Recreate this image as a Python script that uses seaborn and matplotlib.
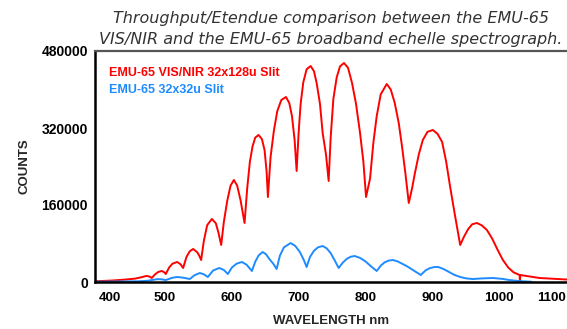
import matplotlib
matplotlib.use("Agg")
import matplotlib.pyplot as plt
import matplotlib.transforms as mtransforms
import seaborn as sns
import pandas as pd

# wavelength (nm) / counts
red_wl = [395, 420, 440, 455, 465, 470, 473, 477, 480, 485, 490, 495, 499, 501, 506,
          511, 518, 523, 527, 532, 537, 542, 548, 551, 554, 558, 563, 570, 576, 580,
          584, 588, 593, 598, 603, 608, 613, 619, 623, 627, 631, 635, 640, 645, 649,
          652, 654, 658, 663, 668, 674, 681, 686, 690, 694, 697, 700, 703, 707, 712,
          718, 723, 727, 732, 736, 741, 745, 748, 752, 757, 762, 768, 774, 780, 786,
          792, 797, 801, 807, 812, 817, 823, 832, 838, 844, 850, 855, 860, 865, 870,
          874, 880, 886, 893, 901, 908, 915, 921, 927, 934, 942, 948, 954, 960, 967,
          974, 982, 990, 998, 1006, 1014, 1022, 1031, 1031.5, 1032, 1061, 1104]
red_counts = [1500, 3000, 5000, 7000, 10000, 12000, 12500, 11000, 8300, 16000, 21000,
              22900, 20000, 16600, 30000, 38000, 41600, 37000, 29100, 52000, 64000,
              68600, 62000, 55000, 45700, 85000, 118000, 131000, 122000, 102000, 76900,
              125000, 168000, 200000, 212000, 200000, 170000, 122600, 195000, 250000,
              282000, 300000, 305500, 297000, 274000, 230000, 176600, 260000, 315000,
              355000, 378000, 384400, 372000, 345000, 295000, 230700, 310000, 370000,
              415000, 442000, 448800, 438000, 413500, 370000, 309600, 265000, 209900,
              300000, 380000, 425000, 448000, 455100, 445000, 413500, 370000, 309600,
              250000, 176600, 215000, 290000, 345000, 390000, 411400, 400000, 372000,
              330000, 280500, 225000, 164200, 195000, 225000, 265000, 295000, 312000,
              315900, 308000, 290900, 250000, 197400, 140000, 76900, 95000, 110000,
              120000, 122600, 118000, 108100, 90000, 67000, 45700, 30000, 20000, 14500,
              0, 14500, 8300, 5000]

blue_wl = [395, 430, 460, 473, 480, 489, 495, 501, 510, 518, 527, 537, 544, 552, 558,
           564, 572, 581, 588, 594, 600, 607, 615, 622, 630, 635, 640, 646, 651, 656,
           662, 667, 672, 678, 688, 695, 702, 708, 712, 717, 723, 729, 736, 742, 748,
           754, 760, 766, 772, 778, 784, 792, 800, 808, 817, 823, 829, 835, 841, 848,
           855, 862, 870, 883, 890, 896, 903, 909, 917, 925, 933, 942, 951, 961, 975,
           991, 1005, 1016, 1030, 1049]
blue_counts = [500, 1000, 1500, 2500, 4000, 6000, 5500, 4000, 8500, 10400, 9000, 6200,
               14000, 18700, 16000, 10400, 24000, 29100, 25000, 16600, 30000, 38000,
               41600, 36000, 22900, 42000, 55000, 62300, 58000, 48000, 38000, 27000,
               55000, 72000, 81000, 75000, 62000, 45000, 31200, 52000, 65000, 72000,
               74800, 70000, 60000, 45000, 29100, 40000, 48000, 52500, 54000, 50000,
               43000, 33000, 22900, 34000, 41000, 44500, 45700, 43000, 38000, 33000,
               26000, 14500, 24000, 28500, 31000, 31200, 27000, 21000, 15000, 10400,
               7500, 6200, 7500, 8300, 6500, 4000, 2000, 500]

red_label = "EMU-65 VIS/NIR 32x128u Slit"
blue_label = "EMU-65 32x32u Slit"
title_lines = ["Throughput/Etendue comparison between the EMU-65",
               "VIS/NIR and the EMU-65 broadband echelle spectrograph."]
y_ticks = [0, 160000, 320000, 480000]
x_ticks = [400, 500, 600, 700, 800, 900, 1000, 1100]

sns.set_style("white")
plt.rcParams['font.family'] = ['Liberation Sans', 'DejaVu Sans']

RED = "#ff0000"
BLUE = "#1e8cff"
W, H = 567, 329

fig = plt.figure(figsize=(W / 100, H / 100), dpi=100)
ax = fig.add_axes([95 / W, 1 - 282 / H, 1 - 95 / W, (282 - 51) / H])

red_df = pd.DataFrame({"wl": red_wl, "counts": red_counts})
blue_df = pd.DataFrame({"wl": blue_wl, "counts": blue_counts})
sns.lineplot(data=red_df, x="wl", y="counts", ax=ax, color=RED, lw=1.4,
             estimator=None, sort=False)
sns.lineplot(data=blue_df, x="wl", y="counts", ax=ax, color=BLUE, lw=1.4,
             estimator=None, sort=False)

ax.set_xlim(395, 1102)
ax.set_ylim(0, 480000)
ax.set_xticks(x_ticks)
ax.set_yticks(y_ticks)
xl = ax.set_xticklabels([str(t) for t in x_ticks], fontweight="bold", fontsize=9.5)
xl[0].set_ha("left")
xl[-1].set_ha("right")
shift = mtransforms.ScaledTranslation(-3 / 72, 0, fig.dpi_scale_trans)
xl[-1].set_transform(xl[-1].get_transform() + shift)
ax.set_yticklabels([str(t) for t in y_ticks], fontweight="bold", fontsize=10)
ax.tick_params(axis="both", length=3, width=1, pad=2, colors="black", direction="out")
ax.tick_params(axis="x", pad=4)

for s in ["left", "bottom"]:
    ax.spines[s].set_color("black")
    ax.spines[s].set_linewidth(1.8)
ax.spines["top"].set_color("#555555")
ax.spines["top"].set_linewidth(1.6)
ax.spines["right"].set_visible(False)

ax.set_xlabel("WAVELENGTH nm", fontweight="bold", fontsize=9.5, labelpad=8)
ax.set_ylabel("COUNTS", fontweight="bold", fontsize=9.5, labelpad=8)

ax.text(0.03, 0.905, red_label, transform=ax.transAxes, color=RED,
        fontweight="bold", fontsize=9, va="center", ha="left")
ax.text(0.03, 0.83, blue_label, transform=ax.transAxes, color=BLUE,
        fontweight="bold", fontsize=9, va="center", ha="left")

for line, base in zip(title_lines, [23, 44]):
    fig.text(331 / W, 1 - base / H, line, ha="center", va="baseline",
             fontsize=11.5, style="italic", color="#333333", family="DejaVu Sans")

fig.savefig("out.png", dpi=100)
